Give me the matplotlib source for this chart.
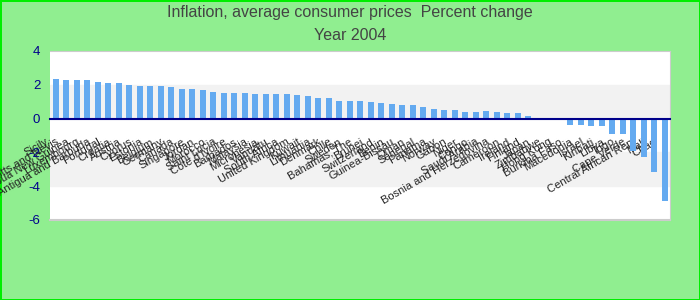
import numpy as np
import matplotlib
matplotlib.use("Agg")
import matplotlib.pyplot as plt
from matplotlib.transforms import ScaledTranslation

plt.rcParams['font.family'] = ['Liberation Sans', 'DejaVu Sans']

countries = ["Sicily", "Saint Kitts and Nevis", "Papua New Guinea", "Luxembourg",
             "Antigua and Barbuda", "Portugal", "Croatia", "Austria", "Cyprus", "Estonia",
             "Belgium", "Germany", "Canada", "Singapore", "Jordan", "Morocco", "Saint Lucia",
             "Cote d'Ivoire", "Barbados", "Malaysia", "Micronesia", "Vanuatu", "South Africa",
             "United Kingdom", "Kuwait", "Lithuania", "Denmark", "Chile", "Sweden",
             "Bahamas, The", "Brunei", "Switzerland", "Benin", "Guinea-Bissau", "Oman",
             "Senegal", "Panama", "Norway", "Gabon", "Niger", "Congo", "Saudi Arabia",
             "Bosnia and Herzegovina", "Cameroon", "Ireland", "Finland", "Japan", "Zimbabwe",
             "Hong Kong", "Burkina Faso", "Macedonia", "Israel", "Kiribati", "Libya", "Togo",
             "Cape Verde", "Central African Rep.", "Mali", "Chad"]
inflation = [2.32, 2.26, 2.26, 2.26, 2.14, 2.08, 2.08, 1.96, 1.90, 1.90,
             1.90, 1.85, 1.73, 1.73, 1.67, 1.55, 1.49, 1.49, 1.49, 1.43,
             1.43, 1.43, 1.43, 1.37, 1.31, 1.19, 1.19, 1.07, 1.07, 1.07,
             1.01, 0.95, 0.89, 0.83, 0.83, 0.71, 0.54, 0.48, 0.48, 0.42,
             0.42, 0.43, 0.37, 0.31, 0.31, 0.18, 0.0, 0.0, 0.0, -0.38,
             -0.38, -0.44, -0.44, -0.92, -0.92, -1.93, -2.28, -3.14, -4.86]
yticks = [4, 2, 0, -2, -4, -6]

fig = plt.figure(figsize=(7, 3), dpi=100)
fig.patch.set_facecolor('#90ee90')
fig.patch.set_edgecolor('#00ee00')
fig.patch.set_linewidth(2)

ax = fig.add_axes([50/700, 80/300, 620/700, 169/300])
ax.set_facecolor('white')

# alternating bands
ax.axhspan(0, 2, color='#f2f2f2', zorder=0)
ax.axhspan(-4, -2, color='#f2f2f2', zorder=0)

x = np.arange(len(countries))
ax.bar(x, inflation, width=0.57, color='#64aaf0', zorder=2)

ax.set_xlim(-0.55, len(countries) - 0.5)
ax.set_ylim(-6, 4)
ax.set_yticks(yticks)
ax.set_yticklabels([str(v) for v in yticks], color='#00008b', fontsize=9.5)
ax.tick_params(axis='y', length=0, pad=7)

for s in ['top', 'right', 'left']:
    ax.spines[s].set_color('#cccccc')
ax.spines['left'].set_visible(False)
ax.spines['bottom'].set_position(('data', 0))
ax.spines['bottom'].set_color('#00008b')
ax.spines['bottom'].set_linewidth(1.5)
ax.spines['bottom'].set_zorder(3)
# frame bottom line
ax.axhline(-6, color='#cccccc', linewidth=1.5, clip_on=False)

ax.set_xticks(x)
ax.set_xticklabels(countries, rotation=30, ha='right', va='top', fontsize=8, color='#222222')
ax.tick_params(axis='x', length=0, pad=13)
shift = ScaledTranslation(-6/100, 0, fig.dpi_scale_trans)
for lab in ax.get_xticklabels():
    lab.set_transform(lab.get_transform() + shift)

fig.text(0.5, 1 - 12/300, "Inflation, average consumer prices  Percent change",
         ha='center', va='center', fontsize=11.5, color='#444444')
fig.text(0.5, 1 - 36/300, "Year 2004", ha='center', va='center', fontsize=11.5, color='#444444')

fig.savefig("out.png", dpi=100, facecolor=fig.get_facecolor(), edgecolor=fig.get_edgecolor())
